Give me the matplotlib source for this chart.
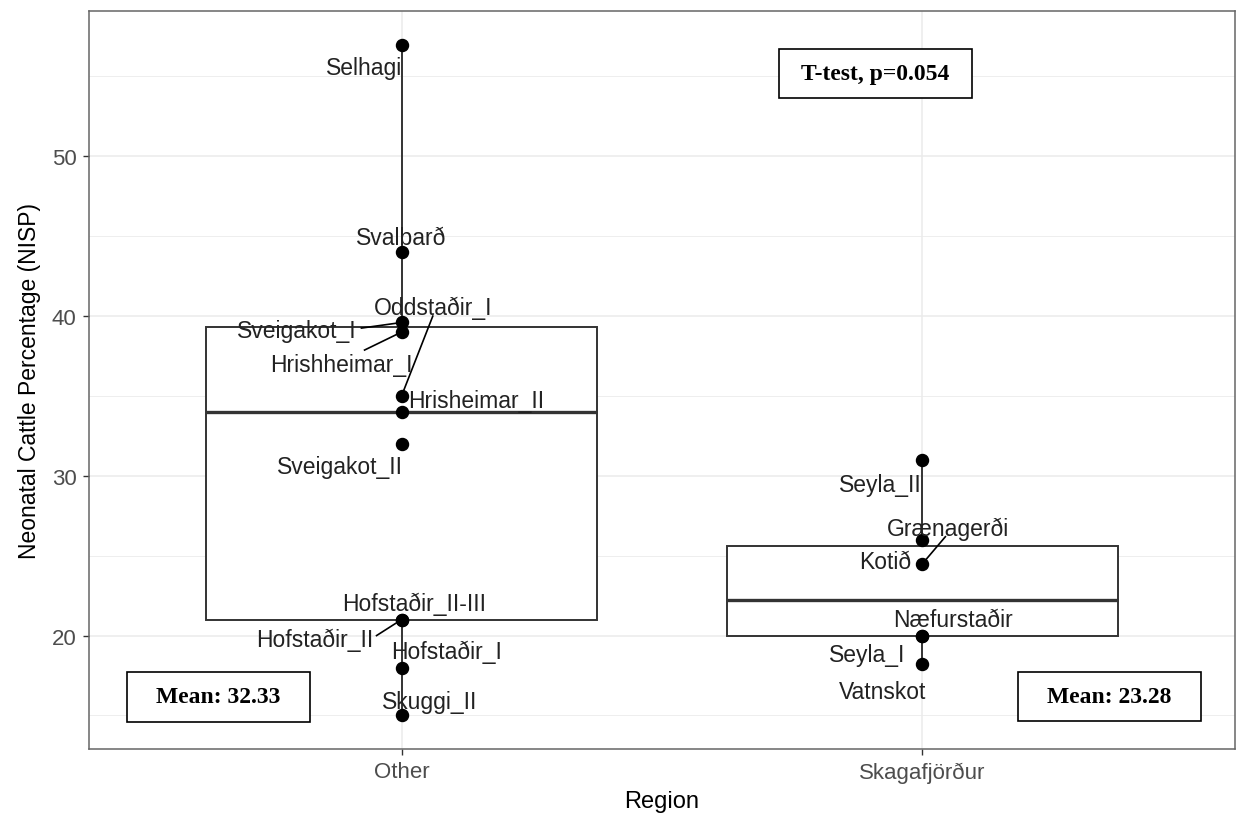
import matplotlib
matplotlib.use("Agg")
import matplotlib.pyplot as plt
from matplotlib.patches import Rectangle
import numpy as np

plt.rcParams["font.family"] = ["Liberation Sans", "DejaVu Sans"]

regions = ["Other", "Skagafjörður"]

other_sites = ["Selhagi", "Svalbarð", "Sveigakot_I", "Hrishheimar_I", "Oddstaðir_I",
               "Hrisheimar_II", "Sveigakot_II", "Hofstaðir_II-III", "Hofstaðir_II",
               "Hofstaðir_I", "Skuggi_II"]
other_pct = [57.0, 44.0, 39.6, 39.0, 35.0, 34.0, 32.0, 21.0, 21.0, 18.0, 15.0]

skag_sites = ["Seyla_II", "Kotið", "Grænagerði", "Næfurstaðir", "Seyla_I", "Vatnskot"]
skag_pct = [31.0, 26.0, 24.5, 20.0, 20.0, 18.2]

ttest_p = 0.054

# label placement (offset from the point: x in category units, y in data units)
label_off = {
    "Selhagi": (-0.071, -1.44), "Svalbarð": (0.0, 0.94), "Sveigakot_I": (-0.202, -0.52),
    "Hrishheimar_I": (-0.115, -2.0), "Oddstaðir_I": (0.06, 5.58), "Hrisheimar_II": (0.144, 0.7),
    "Sveigakot_II": (-0.119, -1.44), "Hofstaðir_II-III": (0.025, 1.0), "Hofstaðir_II": (-0.167, -1.25),
    "Hofstaðir_I": (0.087, 1.0), "Skuggi_II": (0.054, 0.875),
    "Seyla_II": (-0.081, -1.56), "Kotið": (-0.071, -1.36), "Grænagerði": (0.05, 2.19),
    "Næfurstaðir": (0.058, 1.02), "Seyla_I": (-0.106, -1.19), "Vatnskot": (-0.077, -1.7),
}
# where the leader segment starts for labels pushed away from their point
seg_start = {
    "Sveigakot_I": (-0.077, -0.35), "Hrishheimar_I": (-0.071, -1.125),
    "Oddstaðir_I": (0.06, 5.0), "Hofstaðir_II": (-0.048, -1.0), "Grænagerði": (0.044, 1.69),
}

fig = plt.figure(figsize=(12.38, 8.2), dpi=100)
ax = fig.add_axes([89 / 1238, 70 / 820, (1235 - 89) / 1238, (750 - 12) / 820])

ax.boxplot([other_pct, skag_pct], positions=[0, 1], widths=0.75, patch_artist=True,
           showcaps=False, showfliers=False,
           boxprops=dict(facecolor="white", edgecolor="#333333", linewidth=1.4),
           medianprops=dict(color="#333333", linewidth=2.4),
           whiskerprops=dict(color="#333333", linewidth=1.4), zorder=2)

for i, (sites, vals) in enumerate([(other_sites, other_pct), (skag_sites, skag_pct)]):
    ax.scatter([i] * len(vals), vals, s=75, color="black", zorder=4)
    for name, v in zip(sites, vals):
        dx, dy = label_off[name]
        if name in seg_start:
            sx, sy = seg_start[name]
            ax.plot([i + sx, i], [v + sy, v], color="black", lw=1.2, zorder=3)
        ax.text(i + dx, v + dy, name, ha="center", va="center", fontsize=16.5,
                color="#222222", zorder=5)

ax.set_xlim(-0.6, 1.6)
ax.set_ylim(12.9, 59.1)
ax.set_xticks([0, 1])
ax.set_xticklabels(regions)
ax.set_yticks([20, 30, 40, 50])
ax.set_yticks([15, 25, 35, 45, 55], minor=True)
ax.grid(True, which="major", color="#EBEBEB", lw=1.1, zorder=0)
ax.grid(True, which="minor", axis="y", color="#EBEBEB", lw=0.6, zorder=0)
ax.set_axisbelow(True)
ax.tick_params(which="major", length=4, width=1, color="#333333", labelcolor="#4D4D4D",
               labelsize=16, pad=5)
ax.tick_params(which="minor", length=0)
for sp in ax.spines.values():
    sp.set_color("#666666")
    sp.set_linewidth(1.1)

ax.set_xlabel("Region", fontsize=17, color="black", labelpad=5)
ax.set_ylabel("Neonatal Cattle Percentage (NISP)", fontsize=16.5, color="black", labelpad=8)

# annotation boxes (figure pixel coordinates)
boxes = [
    ((779, 50, 972, 99), f"T-test, p={ttest_p:.3f}"),
    ((127, 673, 310, 723), f"Mean: {np.mean(other_pct):.2f}"),
    ((1018, 673, 1201, 722), f"Mean: {np.mean(skag_pct):.2f}"),
]
for (x0, y0, x1, y1), txt in boxes:
    fig.patches.append(Rectangle((x0 / 1238, 1 - y1 / 820), (x1 - x0) / 1238, (y1 - y0) / 820,
                                 transform=fig.transFigure, facecolor="white",
                                 edgecolor="black", lw=1.2, zorder=10))
    fig.text((x0 + x1) / 2 / 1238, 1 - (y0 + y1) / 2 / 820, txt, ha="center", va="center",
             fontsize=17, fontweight="bold", family="Liberation Serif", zorder=11)

fig.savefig("out.png", dpi=100)
